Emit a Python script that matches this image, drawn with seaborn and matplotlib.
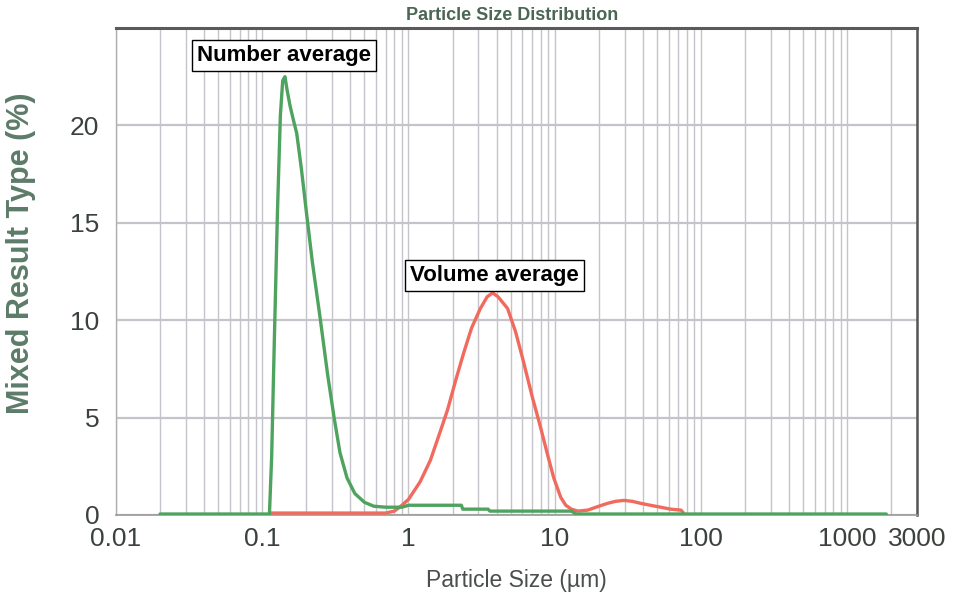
import numpy as np
import pandas as pd
import matplotlib
matplotlib.use("Agg")
import matplotlib.pyplot as plt
import seaborn as sns
from matplotlib.ticker import FixedLocator, NullFormatter

# ---- data ----
green_x = [0.02, 0.112, 0.116, 0.121, 0.127, 0.133, 0.138, 0.143, 0.148, 0.155, 0.163,
           0.172, 0.185, 0.2, 0.22, 0.25, 0.28, 0.31, 0.34, 0.38, 0.43, 0.5, 0.58,
           0.7, 0.9, 0.95, 1.0, 2.3, 2.35, 3.5, 3.6, 13.0, 14.0, 1850.0]
green_y = [0.05, 0.05, 3.0, 9.0, 15.5, 20.5, 22.3, 22.5, 21.8, 21.0, 20.3,
           19.6, 17.8, 15.6, 13.0, 10.0, 7.2, 5.0, 3.2, 1.9, 1.1, 0.65, 0.45,
           0.4, 0.4, 0.45, 0.5, 0.5, 0.3, 0.3, 0.2, 0.2, 0.05, 0.05]

red_x = [0.113, 0.7, 0.8, 0.88, 1.0, 1.2, 1.41, 1.6, 1.85, 2.1, 2.38, 2.7, 3.1, 3.45,
         3.76, 4.1, 4.76, 5.4, 6.1, 7.0, 8.0, 9.0, 9.85, 11.0, 11.9, 13.0, 14.4, 16.8,
         20.0, 23.0, 26.0, 29.7, 34.0, 38.7, 45.0, 53.0, 62.0, 73.0, 76.0]
red_y = [0.1, 0.1, 0.2, 0.43, 0.8, 1.7, 2.8, 4.0, 5.4, 6.9, 8.3, 9.6, 10.6, 11.2,
         11.4, 11.2, 10.6, 9.4, 7.9, 6.1, 4.5, 3.0, 1.9, 0.9, 0.5, 0.3, 0.2, 0.25,
         0.45, 0.6, 0.7, 0.75, 0.7, 0.6, 0.5, 0.4, 0.3, 0.25, 0.1]

x_tick_values = [0.01, 0.1, 1, 10, 100, 1000, 3000]
x_tick_labels = ["0.01", "0.1", "1", "10", "100", "1000", "3000"]
y_tick_values = [0, 5, 10, 15, 20]
y_tick_labels = ["0", "5", "10", "15", "20"]

title = "Particle Size Distribution"
x_label = "Particle Size (µm)"
y_label = "Mixed Result Type (%)"
annotations = ["Number average", "Volume average"]

# ---- style ----
sns.set_theme(style="white")
fam = ["Liberation Sans", "DejaVu Sans"]
plt.rcParams["font.family"] = fam

green = "#4ea35f"
red = "#f06a5e"
grid_c = "#c4c4ca"

fig = plt.figure(figsize=(9.55, 6.02), dpi=100)
ax = fig.add_axes([116/955, 1-515/602, (917-116)/955, (515-28)/602])

red_df = pd.DataFrame({"x": red_x, "y": red_y})
green_df = pd.DataFrame({"x": green_x, "y": green_y})
sns.lineplot(data=red_df, x="x", y="y", sort=False, estimator=None, ax=ax,
             color=red, linewidth=2.4, zorder=3)
sns.lineplot(data=green_df, x="x", y="y", sort=False, estimator=None, ax=ax,
             color=green, linewidth=2.4, zorder=4)

ax.set_xscale("log")
ax.set_xlim(0.01, 3000)
ax.set_ylim(0, 25)

minor = []
for dec in [0.01, 0.1, 1, 10, 100, 1000]:
    for m in range(2, 10):
        v = dec * m
        if v < 3000:
            minor.append(v)
ax.xaxis.set_major_locator(FixedLocator(x_tick_values))
ax.set_xticklabels(x_tick_labels)
ax.xaxis.set_minor_locator(FixedLocator(minor))
ax.xaxis.set_minor_formatter(NullFormatter())
ax.set_yticks(y_tick_values)
ax.set_yticklabels(y_tick_labels)

ax.grid(True, which="both", axis="x", color=grid_c, linewidth=1.0)
ax.grid(True, which="major", axis="y", color=grid_c, linewidth=1.6)
ax.set_axisbelow(True)

ax.tick_params(axis="both", which="both", length=0, labelsize=19,
               labelcolor="#3b423d")
ax.tick_params(axis="x", pad=9)
ax.tick_params(axis="y", pad=12)

for s, c, lw in [("top", "#5a5a5a", 2.2), ("right", "#555555", 1.8),
                 ("left", "#b0b0b0", 1.0), ("bottom", "#9a9a9a", 1.2)]:
    ax.spines[s].set_visible(True)
    ax.spines[s].set_color(c)
    ax.spines[s].set_linewidth(lw)

ax.set_xlabel(x_label, fontsize=16.5, color="#4a4f4c")
ax.xaxis.set_label_coords((516-116)/(917-116), -(580-515)/(515-28))
ax.xaxis.label.set_va("center")
ax.set_ylabel(y_label, fontsize=22, color="#5c7c69", fontweight="bold")
ax.yaxis.set_label_coords(-(116-21)/(917-116), (515-253)/(515-28))
ax.yaxis.label.set_va("center")

fig.text(512/955, 1-15/602, title, ha="center", va="center", fontsize=13,
         fontweight="bold", color="#4b6655")

box = dict(boxstyle="square,pad=0.22", facecolor="white", edgecolor="black",
           linewidth=1.0)
ax.text(0.1415, 23.6, annotations[0], ha="center", va="center", fontsize=16,
        fontweight="bold", color="black", bbox=box, zorder=6)
ax.text(3.88, 12.3, annotations[1], ha="center", va="center", fontsize=16,
        fontweight="bold", color="black", bbox=box, zorder=6)

fig.savefig("out.png", dpi=100, facecolor="white")
